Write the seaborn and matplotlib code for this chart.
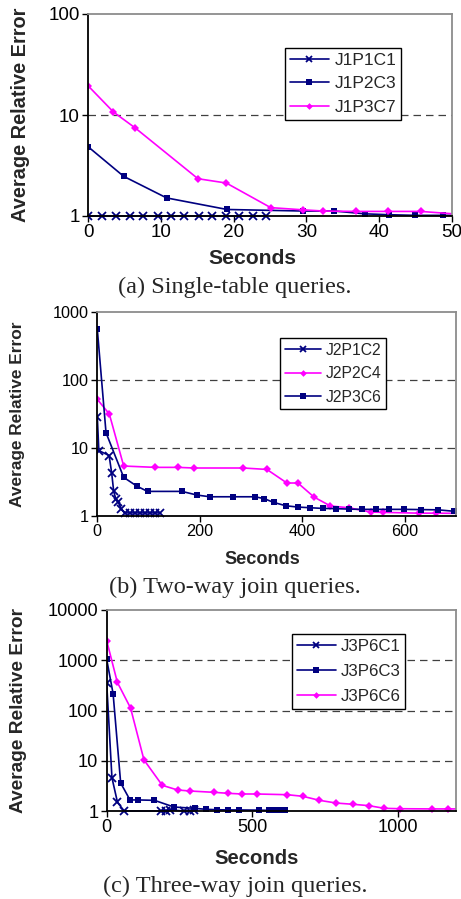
import matplotlib
matplotlib.use("Agg")
import matplotlib.pyplot as plt
import pandas as pd
import seaborn as sns
from matplotlib.patches import Rectangle
from matplotlib.ticker import FixedLocator, NullLocator

NAVY = "#000080"
MAGENTA = "#FF00FF"

# (a) single-table queries
a_c1_x = [0, 1.9, 3.8, 5.8, 7.6, 9.6, 11.4, 13.2, 15.2, 17.0, 19.0, 20.8, 22.6, 24.5]
a_c1_y = [1.0] * 14
a_c3_x = [0, 4.9, 10.8, 19.1, 29.6, 33.8, 38.1, 41.3, 44.9, 48.7, 51]
a_c3_y = [4.86, 2.47, 1.51, 1.16, 1.12, 1.12, 1.05, 1.03, 1.015, 1.015, 1.015]
a_c7_x = [0, 3.5, 6.5, 15.1, 19.0, 25.1, 29.6, 32.3, 36.8, 41.2, 45.7, 51]
a_c7_y = [19.5, 10.7, 7.43, 2.34, 2.12, 1.21, 1.15, 1.12, 1.11, 1.11, 1.11, 1.04]

# (b) two-way join queries
b_c2_x = [0, 3, 23, 28, 32, 36, 41, 47, 54, 64, 73, 83, 93, 103, 112, 122]
b_c2_y = [28.7, 9.1, 7.7, 4.3, 2.28, 1.78, 1.57, 1.25, 1.1, 1.1, 1.1, 1.1, 1.1, 1.1, 1.1, 1.1]
b_c4_x = [0, 23.5, 51.5, 112.7, 157, 189, 285, 331, 370, 391.5, 423, 455, 490.5,
          534, 557.7, 627, 660, 720]
b_c4_y = [51.7, 31.4, 5.39, 5.15, 5.15, 5.04, 5.04, 4.8, 3.03, 3.03, 1.88, 1.39, 1.31,
          1.13, 1.12, 1.09, 1.09, 1.08]
b_c6_x = [0, 17, 51.5, 77, 98, 165, 195, 220, 264.5, 308, 326, 344, 368, 391.5, 415.6,
          440, 466, 491, 516.6, 544, 570, 599, 632, 665, 697, 720]
b_c6_y = [561, 16.7, 3.67, 2.73, 2.28, 2.28, 2.01, 1.9, 1.9, 1.9, 1.78, 1.57, 1.40, 1.34,
          1.31, 1.28, 1.27, 1.25, 1.24, 1.24, 1.24, 1.24, 1.23, 1.22, 1.16, 1.16]

# (c) three-way join queries
c_c1_x = [0, 18, 37, 60, 188, 203, 217, 266, 286, 300]
c_c1_y = [347, 4.6, 1.49, 1.0, 1.0, 1.02, 1.05, 1.0, 1.0, 1.03]
c_c3_x = [0, 22, 48, 80, 106, 164, 231, 303, 341, 378, 416, 453, 524, 558, 579, 598, 614]
c_c3_y = [1042, 216, 3.61, 1.66, 1.66, 1.63, 1.2, 1.13, 1.08, 1.06, 1.05, 1.05, 1.04,
          1.03, 1.03, 1.03, 1.03]
c_c6_x = [0, 36.6, 82, 128, 191, 243.6, 286, 370, 416, 464, 515.4, 620.6, 674, 731,
          788.6, 845.7, 899.4, 954, 1008, 1116.6, 1171, 1230]
c_c6_y = [2450, 363, 112, 10.4, 3.24, 2.62, 2.5, 2.35, 2.25, 2.18, 2.18, 2.11, 1.96,
          1.63, 1.44, 1.36, 1.28, 1.13, 1.11, 1.1, 1.1, 1.1]

W, H = 461, 899


def fx(px):
    return px / W


def fy(py):
    return 1 - py / H


STYLE = {
    "x": dict(marker="x", markersize=5.5, markeredgewidth=1.3),
    "s": dict(marker="s", markersize=5, markeredgewidth=0),
    "D": dict(marker="D", markersize=4, markeredgewidth=0),
}
LEGEND_MS = {"x": 4.2, "s": 5, "D": 3.4}


def draw_panel(ax, box, series, xlim, xticks, yticks, legend_anchor, scale, leg_opts,
               ylab_x, xlab_x, xlab_y, caption, caption_y):
    left, right, top, bottom = box
    for name, xs, ys, color, mk in series:
        df = pd.DataFrame({"t": xs, "err": ys})
        sns.lineplot(data=df, x="t", y="err", ax=ax, color=color, label=name,
                     sort=False, estimator=None, linewidth=1.2,
                     markeredgecolor=color, **STYLE[mk])
    # let the markers sitting on the y=1 floor show whole, clip only left/right
    clip = Rectangle((0, -0.05), 1, 1.1, transform=ax.transAxes, visible=False)
    ax.add_patch(clip)
    for ln in ax.get_lines():
        ln.set_clip_path(clip)
    ax.set_yscale("log")
    ax.set_xlim(*xlim)
    ax.set_ylim(yticks[0], yticks[-1])
    ax.yaxis.set_major_locator(FixedLocator(yticks))
    ax.set_yticklabels([str(v) for v in yticks])
    ax.yaxis.set_minor_locator(NullLocator())
    ax.set_xticks(xticks)
    ax.set_xticklabels([str(v) for v in xticks])
    for yv in yticks[1:-1]:
        ax.axhline(yv, color="#404040", lw=0.9, dashes=(6, 4), zorder=0.5)
    for s in ["left", "bottom"]:
        ax.spines[s].set_color("black")
        ax.spines[s].set_linewidth(1.3)
    for s in ["top", "right"]:
        ax.spines[s].set_color("#8c8c8c")
        ax.spines[s].set_linewidth(1.3)
    ax.tick_params(axis="both", which="major", direction="out", length=4, width=1,
                   labelsize=13.6 * scale, pad=2, colors="black")
    ax.tick_params(axis="x", bottom=True)
    ax.tick_params(axis="y", left=True)
    ax.set_ylabel("Average Relative Error", fontsize=14.4 * scale, fontweight="bold")
    ax.yaxis.set_label_coords((ylab_x - left) / (right - left), 0.5)
    ax.set_xlabel("Seconds", fontsize=15.2 * scale, fontweight="bold")
    ax.xaxis.set_label_coords((xlab_x - left) / (right - left),
                              (bottom - xlab_y) / (bottom - top))
    ax.xaxis.label.set_va("center")
    ax.yaxis.label.set_va("center")
    leg = ax.legend(loc="upper left", bbox_to_anchor=legend_anchor, borderaxespad=0,
                    frameon=True, fancybox=False, shadow=False,
                    handlelength=2.3, handletextpad=0.3, **leg_opts)
    leg.get_frame().set_edgecolor("black")
    leg.get_frame().set_linewidth(1.0)
    leg.get_frame().set_alpha(1)
    for h, (_, _, _, _, mk) in zip(leg.legend_handles, series):
        h.set_markersize(LEGEND_MS[mk])
    fig.text(fx(235), fy(caption_y), caption, ha="center", va="center",
             fontsize=17.5, family="Liberation Serif")


sns.set_style("white")
plt.rcParams["font.family"] = ["Liberation Sans", "DejaVu Sans"]

fig = plt.figure(figsize=(W / 100, H / 100), dpi=100)

boxes = {
    "a": (88, 452, 14, 216),
    "b": (97.3, 456, 312, 515.7),
    "c": (106.7, 456, 610, 811),
}
axes = {}
for k, (l, r, t, b) in boxes.items():
    axes[k] = fig.add_axes([fx(l), fy(b), (r - l) / W, (b - t) / H])

draw_panel(
    axes["a"], boxes["a"],
    [("J1P1C1", a_c1_x, a_c1_y, NAVY, "x"),
     ("J1P2C3", a_c3_x, a_c3_y, NAVY, "s"),
     ("J1P3C7", a_c7_x, a_c7_y, MAGENTA, "D")],
    (0, 50), [0, 10, 20, 30, 40, 50], [1, 10, 100],
    ((285 - 88) / 364, (216 - 48) / 202), 1.0,
    dict(fontsize=12.5, labelspacing=0.5, borderpad=0.26),
    20, 252, 259, "(a) Single-table queries.", 287,
)
draw_panel(
    axes["b"], boxes["b"],
    [("J2P1C2", b_c2_x, b_c2_y, NAVY, "x"),
     ("J2P2C4", b_c4_x, b_c4_y, MAGENTA, "D"),
     ("J2P3C6", b_c6_x, b_c6_y, NAVY, "s")],
    (0, 700), [0, 200, 400, 600], [1, 10, 100, 1000],
    ((280 - 97.3) / 358.7, (515.7 - 338) / 203.7), 0.86,
    dict(fontsize=11.3, labelspacing=0.54, borderpad=0.29),
    18, 262, 560, "(b) Two-way join queries.", 587,
)
draw_panel(
    axes["c"], boxes["c"],
    [("J3P6C1", c_c1_x, c_c1_y, NAVY, "x"),
     ("J3P6C3", c_c3_x, c_c3_y, NAVY, "s"),
     ("J3P6C6", c_c6_x, c_c6_y, MAGENTA, "D")],
    (0, 1200), [0, 500, 1000], [1, 10, 100, 1000, 10000],
    ((292 - 106.7) / 349.3, (811 - 634) / 201), 0.96,
    dict(fontsize=12.2, labelspacing=0.6, borderpad=0.28),
    19, 257, 858, "(c) Three-way join queries.", 886,
)

fig.savefig("out.png", dpi=100)
